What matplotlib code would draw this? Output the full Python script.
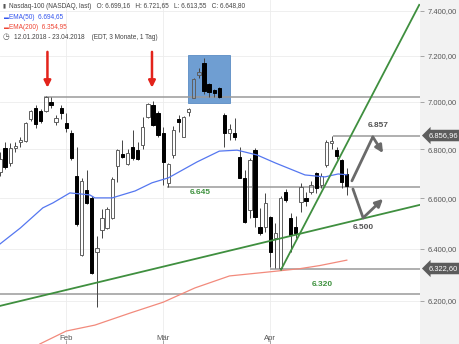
import matplotlib
matplotlib.use("Agg")
import matplotlib.pyplot as plt
from matplotlib.patches import Rectangle
from matplotlib.ticker import FixedLocator, FuncFormatter, NullLocator

plt.rcParams["font.family"] = ["Liberation Sans", "DejaVu Sans"]

# daily candles, 12.01.2018 - 23.04.2018 (trading-day index 0..68)
opens = [6705, 6805, 6744, 6805, 6830, 6835, 6925, 6975, 6960, 6960,
         7000, 6912, 6972, 6910, 6868, 6690, 6375, 6633, 6600, 6385,
         6473, 6481, 6521, 6731, 6780, 6739, 6808, 6796, 6817, 6935,
         6985, 6952, 6868, 6660, 6776, 6925, 6851, 6956, 7017, 7114,
         7168, 7075, 7050, 7058, 6945, 6868, 6868, 6768, 6682, 6553,
         6796, 6485, 6485, 6525, 6442, 6325, 6625, 6521, 6485, 6585,
         6600, 6625, 6700, 6655, 6735, 6825, 6796, 6755, 6699.16]
highs = [6790, 6830, 6825, 6830, 6850, 6915, 6965, 6985, 6970, 7025,
         7020, 6945, 6985, 6950, 6880, 6810, 6680, 6715, 6610, 6450,
         6555, 6565, 6685, 6800, 6838, 6800, 6880, 6830, 6935, 6995,
         7005, 6960, 6893, 6745, 6895, 6945, 6940, 6975, 7100, 7145,
         7190, 7080, 7055, 7065, 6952, 6905, 6930, 6808, 6715, 6765,
         6805, 6560, 6620, 6530, 6500, 6610, 6635, 6540, 6530, 6660,
         6625, 6670, 6705, 6700, 6840, 6856.96, 6810, 6760, 6721.65]
lows = [6690, 6720, 6730, 6790, 6810, 6830, 6920, 6890, 6910, 6955,
        6975, 6900, 6928, 6870, 6755, 6490, 6370, 6575, 6300, 6175,
        6440, 6475, 6515, 6665, 6765, 6735, 6755, 6755, 6800, 6930,
        6895, 6850, 6655, 6645, 6765, 6870, 6850, 6940, 7015, 7100,
        7035, 7022, 7020, 7015, 6808, 6840, 6838, 6680, 6500, 6520,
        6485, 6455, 6465, 6330, 6325, 6322.6, 6585, 6387, 6440, 6545,
        6570, 6615, 6620, 6640, 6725, 6800, 6760, 6640, 6613.55]
closes = [6760, 6728, 6805, 6815, 6838, 6910, 6960, 6905, 6920, 7022,
          6985, 6932, 6952, 6890, 6765, 6497, 6670, 6580, 6305, 6402,
          6521, 6557, 6678, 6796, 6768, 6784, 6764, 6760, 6893, 6990,
          6902, 6860, 6747, 6740, 6880, 6915, 6935, 6969, 7097, 7128,
          7044, 7040, 7038, 7022, 6868, 6885, 6851, 6682, 6505, 6755,
          6525, 6461, 6580, 6387, 6461, 6600, 6593, 6453, 6461, 6645,
          6590, 6655, 6640, 6690, 6830, 6835, 6772, 6666, 6648.80]

ema50_days = [0, 4, 8.4, 10.4, 13.7, 15.7, 17.6, 18.6, 22, 26.5, 29.8, 33,
              38.6, 43, 46.5, 50.4, 54, 59.8, 63.7, 66.3, 68]
ema50_vals = [6418, 6481, 6561, 6581, 6621, 6617, 6613, 6601, 6601, 6629,
              6662, 6682, 6747, 6792, 6796, 6776, 6743, 6694, 6686, 6698,
              6694.65]
ema200_days = [7.8, 13, 18.6, 25.5, 32, 38.2, 45, 53, 58.8, 62.7, 68]
ema200_vals = [6038, 6086, 6108, 6153, 6194, 6248, 6294, 6310, 6322, 6334,
               6354.95]

month_days = [13, 32, 53]
month_labels = ["Feb", "Mär", "Apr"]
y_ticks = [6200, 6400, 6600, 6800, 7000, 7200, 7400]

# horizontal support / resistance: (price, first day)
levels = [(7022, 8.6), (6856.96, 65.2), (6645, 32.7), (6322.6, 53), (6226, 0)]
trend_long = ([0, 82.35], [6180, 6573])
trend_steep = ([55.1, 82.2], [6318, 7426])


def de(v, nd=2):
    s = f"{v:,.{nd}f}"
    return s.replace(",", "X").replace(".", ",").replace("X", ".")


x_max = 82.35
fig = plt.figure(figsize=(4.6, 3.44), dpi=100, facecolor="#f2f2f2")
ax = fig.add_axes([0, 0, 420 / 460, 1])
ax.set_facecolor("white")
ax.set_yscale("log")
ax.set_ylim(6038, 7448)
ax.set_xlim(0, x_max)

ax.yaxis.set_major_locator(FixedLocator(y_ticks))
ax.yaxis.set_minor_locator(NullLocator())
ax.yaxis.set_major_formatter(FuncFormatter(lambda v, p: de(v)))
ax.yaxis.tick_right()
ax.tick_params(axis="y", length=3, width=0.6, color="#999999",
               labelsize=5.4, labelcolor="#555555", pad=2.5)
ax.set_xticks(month_days, month_labels)
ax.tick_params(axis="x", direction="in", length=3, width=0.6, color="#999999",
               labelsize=5.6, labelcolor="#555555", pad=-6.5)
ax.grid(color="#ececec", linewidth=0.6)
ax.set_axisbelow(True)
for s in ax.spines.values():
    s.set_visible(False)

# highlight box
ax.add_patch(Rectangle((36.9, 6994), 8.2, 7203 - 6994, facecolor="#6f9ed2",
                       edgecolor="#5b8cc4", linewidth=0.6, zorder=1))

# levels
for price, start in levels:
    ax.hlines(price, start, x_max, color="#9a9a9a", linewidth=1.1, zorder=2)

# candles
days = range(len(opens))
for d, o, h, l, c in zip(days, opens, highs, lows, closes):
    top, bot = max(o, c), min(o, c)
    up = c >= o
    ax.vlines(d, top, h, color="#444444", linewidth=0.7, zorder=3)
    ax.vlines(d, l, bot, color="#444444", linewidth=0.7, zorder=3)
    ax.bar(d, top - bot, bottom=bot, width=0.64,
           facecolor="none" if up else "black",
           edgecolor="#606060" if up else "black", linewidth=0.7, zorder=4)

# EMAs
ax.plot(ema50_days, ema50_vals, color="#5577f0", linewidth=0.9, zorder=5)
ax.plot(ema200_days, ema200_vals, color="#f28a7c", linewidth=0.9, zorder=5)

# trend lines
ax.plot(*trend_long, color="#3f8f3f", linewidth=1.3, zorder=6)
ax.plot(*trend_steep, color="#3f8f3f", linewidth=1.3, zorder=6)

# red arrows over the tops
for x in [9.3, 29.8]:
    ax.annotate("", xy=(x, 7060), xytext=(x, 7216),
                arrowprops=dict(arrowstyle="-|>", color="#e3231b", lw=1.8,
                                mutation_scale=10, shrinkA=0, shrinkB=0),
                zorder=7)

# gray scenario arrows
gray = "#6a6a6a"
arrow_kw = dict(arrowstyle="-|>", color=gray, lw=2.0, mutation_scale=11,
                shrinkA=0, shrinkB=0)
ax.plot([69.0, 73.1], [6670, 6851], color=gray, linewidth=2.0,
        solid_capstyle="round", zorder=7)
ax.annotate("", xy=(75.1, 6784), xytext=(73.1, 6851), arrowprops=arrow_kw,
            zorder=7)
ax.plot([69.2, 71.2], [6637, 6521], color=gray, linewidth=2.0,
        solid_capstyle="round", zorder=7)
ax.annotate("", xy=(75.1, 6597), xytext=(71.2, 6521), arrowprops=arrow_kw,
            zorder=7)

# level texts
ax.text(74.1, 6898, "6.857", color="#555555", fontsize=6, fontweight="bold",
        ha="center", va="center", zorder=8)
ax.text(71.2, 6481, "6.500", color="#555555", fontsize=6, fontweight="bold",
        ha="center", va="center", zorder=8)
ax.text(39.2, 6621, "6.645", color="#3f923f", fontsize=6, fontweight="bold",
        ha="center", va="center", zorder=8)
ax.text(63.1, 6260, "6.320", color="#3f923f", fontsize=6, fontweight="bold",
        ha="center", va="center", zorder=8)

# price tags on the right axis
for price in [6856.96, 6322.6]:
    ax.annotate(de(price), xy=(1.0, price), xycoords=("axes fraction", "data"),
                xytext=(6, 0), textcoords="offset points", ha="left",
                va="center", color="white", fontsize=5.4,
                bbox=dict(boxstyle="larrow,pad=0.3", fc="#5c5c5c", ec="none"),
                annotation_clip=False, zorder=9)

# header
hdr = "#444444"
fig.text(3 / 460, 1 - 6 / 344, "▮", color="#555555", fontsize=4, va="center")
fig.text(9 / 460, 1 - 6 / 344,
         "Nasdaq-100 (NASDAQ, last)   O: 6.699,16   H: 6.721,65   "
         "L: 6.613,55   C: 6.648,80",
         color=hdr, fontsize=4.7, va="center")
fig.text(4 / 460, 1 - 17.3 / 344, "▬", color="#3355ee", fontsize=3.5,
         va="center")
fig.text(9 / 460, 1 - 17.3 / 344, "EMA(50)  6.694,65", color="#3355ee",
         fontsize=4.7, va="center")
fig.text(4 / 460, 1 - 27.3 / 344, "▬", color="#ee4433", fontsize=3.5,
         va="center")
fig.text(9 / 460, 1 - 27.3 / 344, "EMA(200)  6.354,95", color="#ee4433",
         fontsize=4.7, va="center")
fig.text(3 / 460, 1 - 37.7 / 344, "◷", color="#555555", fontsize=5.5,
         va="center")
fig.text(14 / 460, 1 - 37.7 / 344,
         "12.01.2018 - 23.04.2018    (EDT, 3 Monate, 1 Tag)",
         color=hdr, fontsize=4.7, va="center")

fig.savefig("out.png", dpi=100, facecolor=fig.get_facecolor())
